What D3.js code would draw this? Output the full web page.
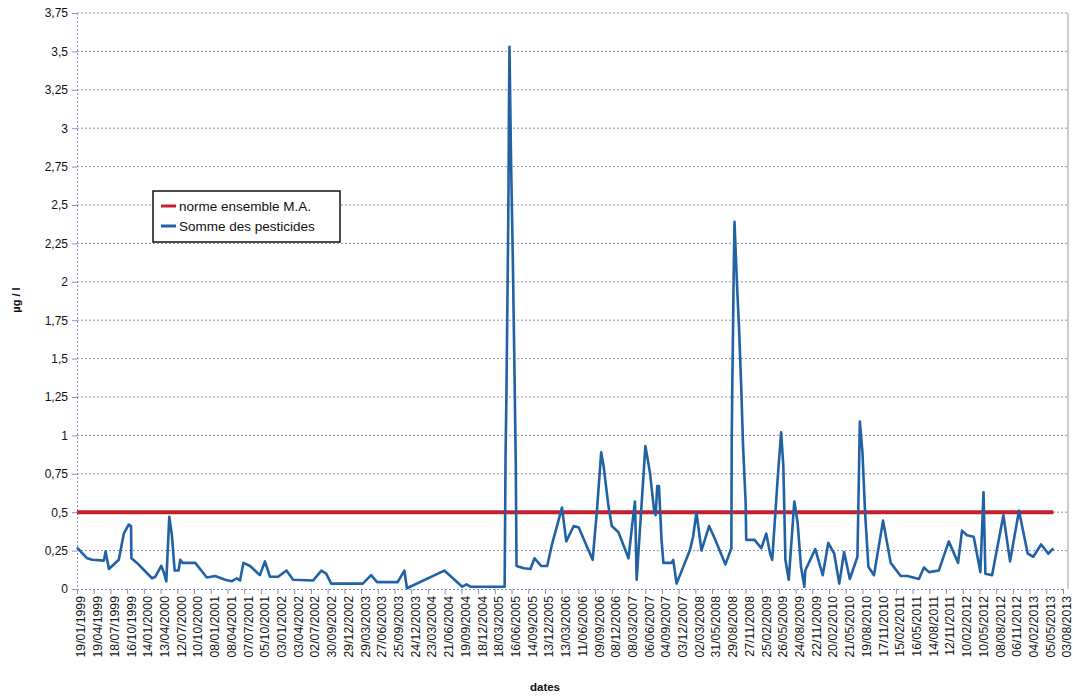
<!DOCTYPE html>
<html><head><meta charset="utf-8">
<script src="https://cdn.jsdelivr.net/npm/d3@7"></script>
<style>body{margin:0;background:#fff}svg{display:block}</style>
</head><body><svg id="c" width="1073" height="696"></svg>
<script>
const sampleDates = ["1999-01-19","1999-03-15","1999-04-11","1999-06-13","1999-06-22","1999-07-10","1999-09-01","1999-09-28","1999-10-25","1999-11-06","1999-11-08","1999-12-08",
"2000-02-27","2000-03-16","2000-04-17","2000-04-30","2000-05-14","2000-05-30","2000-06-13","2000-06-28","2000-07-19","2000-07-28","2000-08-10","2000-10-17","2000-12-18",
"2001-02-01","2001-03-27","2001-05-01","2001-05-28","2001-06-15","2001-07-03","2001-08-08","2001-09-30","2001-10-27","2001-11-23",
"2002-01-06","2002-02-20","2002-03-28","2002-07-13","2002-08-27","2002-09-22","2002-10-19",
"2003-04-07","2003-05-22","2003-06-23","2003-10-12","2003-11-17","2003-12-01",
"2004-06-19","2004-09-24","2004-10-17","2004-11-07",
"2005-05-10","2005-05-15","2005-05-20","2005-05-24","2005-05-28","2005-05-31","2005-06-02","2005-06-05","2005-06-13","2005-06-23","2005-07-01","2005-07-09","2005-07-13","2005-08-22","2005-09-26","2005-10-18","2005-11-22","2005-12-25",
"2006-01-20","2006-03-15","2006-04-07","2006-05-17","2006-06-13","2006-08-27","2006-09-19","2006-10-12","2006-10-25","2006-11-20","2006-12-08",
"2007-01-13","2007-03-08","2007-03-31","2007-04-12","2007-04-21","2007-06-07","2007-07-02","2007-07-23","2007-08-01","2007-08-10","2007-08-19","2007-09-02","2007-09-12","2007-10-26","2007-11-04","2007-11-22",
"2008-02-01","2008-02-19","2008-03-08","2008-03-23","2008-04-04","2008-05-15","2008-06-14","2008-08-11","2008-09-12","2008-09-14","2008-09-17","2008-09-21","2008-09-24","2008-09-29","2008-10-12","2008-10-23","2008-11-04","2008-11-14","2008-11-28","2008-12-01","2008-12-19",
"2009-01-15","2009-02-20","2009-03-19","2009-04-09","2009-04-20","2009-05-20","2009-06-07","2009-06-19","2009-06-30","2009-07-18","2009-08-17","2009-09-04","2009-09-22","2009-10-10","2009-10-15","2009-12-08",
"2010-01-17","2010-02-16","2010-03-20","2010-04-16","2010-05-12","2010-06-12","2010-07-23","2010-08-05","2010-08-19","2010-09-02","2010-09-20","2010-10-20","2010-12-08",
"2011-01-18","2011-03-13","2011-04-18","2011-06-19","2011-07-16","2011-08-12","2011-10-04","2011-11-27",
"2012-01-16","2012-02-06","2012-03-04","2012-04-09","2012-05-15","2012-06-01","2012-06-11","2012-07-17","2012-09-16","2012-10-22","2012-12-09",
"2013-01-25","2013-02-24","2013-04-07","2013-05-16","2013-06-12"];
const sommePesticides = [0.27,0.20,0.19,0.185,0.245,0.13,0.19,0.36,0.42,0.41,0.20,0.17,
0.07,0.08,0.15,0.11,0.05,0.47,0.35,0.12,0.12,0.19,0.17,0.17,0.075,
0.085,0.06,0.05,0.07,0.055,0.17,0.15,0.09,0.18,0.08,
0.08,0.12,0.06,0.055,0.12,0.10,0.035,
0.035,0.09,0.045,0.045,0.12,0.005,
0.12,0.015,0.03,0.015,
0.015,0.87,1.3,1.76,2.21,2.63,3.09,3.53,2.83,2.15,1.5,0.81,0.15,0.135,0.13,0.20,0.15,0.15,
0.29,0.53,0.31,0.41,0.40,0.19,0.51,0.89,0.80,0.54,0.41,
0.37,0.20,0.45,0.57,0.06,0.93,0.755,0.52,0.48,0.67,0.67,0.32,0.17,0.17,0.19,0.035,
0.25,0.34,0.50,0.36,0.25,0.41,0.33,0.16,0.265,0.97,1.32,1.69,2.01,2.39,1.99,1.71,1.32,0.93,0.56,0.32,0.32,
0.32,0.265,0.36,0.23,0.19,0.73,1.02,0.80,0.19,0.06,0.57,0.43,0.145,0.015,0.12,0.26,
0.09,0.30,0.23,0.035,0.24,0.065,0.21,1.09,0.89,0.50,0.145,0.09,0.445,
0.17,0.085,0.085,0.065,0.14,0.11,0.12,0.31,
0.17,0.38,0.35,0.34,0.11,0.63,0.10,0.09,0.48,0.18,0.51,
0.23,0.21,0.29,0.23,0.265];
const normeDates = ["1999-01-19","2013-06-12"];
const normeValues = [0.5,0.5];
const xTickLabels = ["19/01/1999","19/04/1999","18/07/1999","16/10/1999","14/01/2000","13/04/2000","12/07/2000","10/10/2000","08/01/2001","08/04/2001","07/07/2001","05/10/2001","03/01/2002","03/04/2002","02/07/2002","30/09/2002","29/12/2002","29/03/2003","27/06/2003","25/09/2003","24/12/2003","23/03/2004","21/06/2004","19/09/2004","18/12/2004","18/03/2005","16/06/2005","14/09/2005","13/12/2005","13/03/2006","11/06/2006","09/09/2006","08/12/2006","08/03/2007","06/06/2007","04/09/2007","03/12/2007","02/03/2008","31/05/2008","29/08/2008","27/11/2008","25/02/2009","26/05/2009","24/08/2009","22/11/2009","20/02/2010","21/05/2010","19/08/2010","17/11/2010","15/02/2011","16/05/2011","14/08/2011","12/11/2011","10/02/2012","10/05/2012","08/08/2012","06/11/2012","04/02/2013","05/05/2013","03/08/2013"];
const yTicks = [0,0.25,0.5,0.75,1,1.25,1.5,1.75,2,2.25,2.5,2.75,3,3.25,3.5,3.75];
const legendLabels = ["norme ensemble M.A.","Somme des pesticides"];
const colors = ["#c4202c","#2062a4"];

const svg = d3.select("#c");
const pIso = d3.utcParse("%Y-%m-%d");
const pFr = d3.utcParse("%d/%m/%Y");
const L = 77, R = 1063, T = 13, B = 589;
const x = d3.scaleUtc().domain([pFr(xTickLabels[0]), pFr(xTickLabels[xTickLabels.length-1])]).range([L, R]);
const y = d3.scaleLinear().domain([0, 3.75]).range([B, T]);
const font = "Liberation Sans, Arial, sans-serif";
const gridCol = "#8a8cc4";

// gridlines
svg.append("g").selectAll("line").data(yTicks.slice(1)).join("line")
  .attr("x1", L).attr("x2", R + 4).attr("y1", d => y(d)).attr("y2", d => y(d))
  .attr("stroke", gridCol).attr("stroke-width", 1).attr("stroke-dasharray", "2,2");
// right frame
svg.append("line").attr("x1", R + 5).attr("x2", R + 5).attr("y1", T).attr("y2", B)
  .attr("stroke", "#9a9a9a").attr("stroke-width", 1);

// y axis
const ya = svg.append("g").attr("transform", `translate(${L},0)`)
  .call(d3.axisLeft(y).tickValues(yTicks).tickSize(5).tickPadding(4).tickFormat(d => String(d).replace(".", ",")));
ya.select(".domain").attr("stroke", gridCol).attr("stroke-dasharray", "2,2");
ya.selectAll(".tick line").attr("stroke", gridCol);
ya.selectAll("text").attr("font-family", font).attr("font-size", 12).attr("fill", "#111");

// x axis
const xa = svg.append("g").attr("transform", `translate(0,${B})`)
  .call(d3.axisBottom(x).tickValues(xTickLabels.map(pFr)).tickSize(5).tickFormat(d3.utcFormat("%d/%m/%Y")));
xa.select(".domain").attr("stroke", gridCol).attr("stroke-dasharray", "2,2");
xa.selectAll(".tick line").attr("stroke", gridCol);
xa.selectAll("text").attr("font-family", font).attr("font-size", 12.3).attr("fill", "#111")
  .attr("transform", "rotate(-90)").attr("text-anchor", "end").attr("dx", "-7px").attr("x", 0).attr("y", 4)
  .attr("dy", "0.32em");

// series
const line = d3.line().x(d => x(d[0])).y(d => y(d[1]));
const normeData = normeDates.map((d, i) => [pIso(d), normeValues[i]]);
const sommeData = sampleDates.map((d, i) => [pIso(d), sommePesticides[i]]);
svg.append("path").datum(normeData).attr("d", line).attr("fill", "none")
  .attr("stroke", colors[0]).attr("stroke-width", 4);
svg.append("path").datum(sommeData).attr("d", line).attr("fill", "none")
  .attr("stroke", colors[1]).attr("stroke-width", 2.6).attr("stroke-linejoin", "round");

// legend
const lg = svg.append("g").attr("transform", "translate(153,191)");
lg.append("rect").attr("width", 187).attr("height", 51).attr("fill", "#fff").attr("stroke", "#111").attr("stroke-width", 1.5);
legendLabels.forEach((t, i) => {
  const yy = 15 + i * 20;
  lg.append("line").attr("x1", 8).attr("x2", 23).attr("y1", yy).attr("y2", yy).attr("stroke", colors[i]).attr("stroke-width", 3);
  lg.append("text").attr("x", 26).attr("y", yy).attr("dy", "0.35em").attr("font-family", font).attr("font-size", 13.5).attr("fill", "#111").text(t);
});

// titles
svg.append("text").attr("transform", "translate(20,300) rotate(-90)").attr("text-anchor", "middle")
  .attr("font-family", font).attr("font-size", 11).attr("font-weight", "bold").attr("fill", "#111").text("µg / l");
svg.append("text").attr("x", 545).attr("y", 691).attr("text-anchor", "middle")
  .attr("font-family", font).attr("font-size", 11.5).attr("font-weight", "bold").attr("fill", "#111").text("dates");
</script></body></html>
